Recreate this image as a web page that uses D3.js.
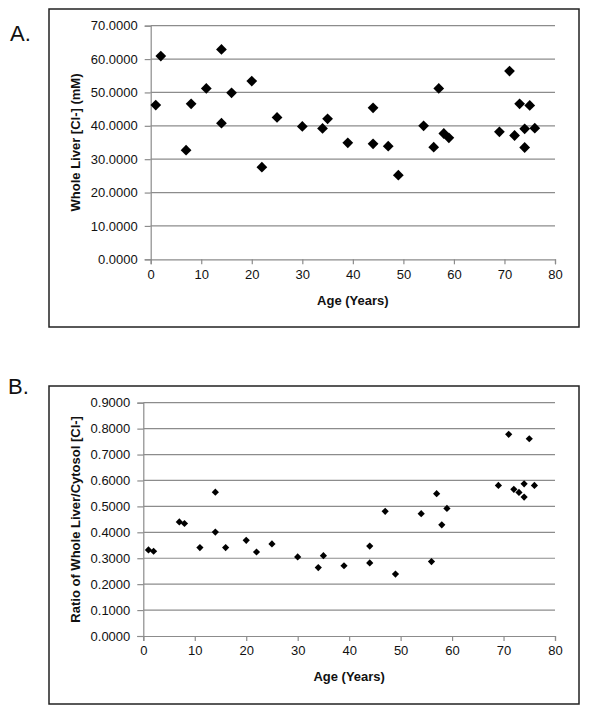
<!DOCTYPE html>
<html><head><meta charset="utf-8">
<script src="https://cdn.jsdelivr.net/npm/d3@7"></script>
<style>body{margin:0;background:#fff}svg{display:block}</style>
</head><body>
<svg id="c" width="589" height="714"></svg>
<script>
const agesA = [1,2,7,8,11,14,14,16,20,22,25,30,34,35,39,44,44,47,49,54,56,57,58,59,69,71,72,73,74,74,75,76];
const chlorideA = [46.2,60.9,32.7,46.6,51.2,62.9,40.8,49.9,53.4,27.6,42.5,39.8,39.2,42.1,34.9,45.4,34.6,33.9,25.2,40.0,33.6,51.2,37.7,36.4,38.2,56.4,37.1,46.6,39.1,33.5,46.1,39.3];
const agesB = [1,2,7,8,11,14,14,16,20,22,25,30,34,35,39,44,44,47,49,54,56,57,58,59,69,71,72,73,74,74,75,76];
const ratioB = [0.332,0.327,0.440,0.434,0.341,0.555,0.401,0.341,0.369,0.324,0.355,0.305,0.264,0.310,0.271,0.347,0.282,0.481,0.239,0.472,0.287,0.549,0.429,0.492,0.581,0.778,0.566,0.554,0.587,0.536,0.761,0.581];
const xTicks = [0,10,20,30,40,50,60,70,80];
const yTicksA = [0,10,20,30,40,50,60,70];
const yTicksB = [0,0.1,0.2,0.3,0.4,0.5,0.6,0.7,0.8,0.9];

const svg = d3.select("#c");
const font = "'Liberation Sans', Arial, sans-serif";
const grid = "#8c8c8c";

function panel(o){
  svg.append("rect").attr("x",o.box[0]).attr("y",o.box[1]).attr("width",o.box[2]).attr("height",o.box[3])
    .attr("fill","none").attr("stroke","#222").attr("stroke-width",1.5);
  svg.append("text").attr("x",o.lab[0]).attr("y",o.lab[1]).text(o.letter)
    .attr("font-family",font).attr("font-size",22).attr("fill","#111");
  const x = d3.scaleLinear().domain([0,80]).range([o.x0,o.x1]);
  const y = d3.scaleLinear().domain(o.ydom).range([o.y0,o.y1]);
  const g = svg.append("g");
  g.selectAll("line.grid").data(o.yt.slice(1)).join("line")
    .attr("x1",o.x0).attr("x2",o.x1).attr("y1",d=>y(d)).attr("y2",d=>y(d))
    .attr("stroke",grid).attr("stroke-width",1.2);
  const ya = g.append("g").attr("transform",`translate(${o.x0},0)`)
    .call(d3.axisLeft(y).tickValues(o.yt).tickFormat(d3.format(".4f")).tickSize(6).tickPadding(7));
  const xa = g.append("g").attr("transform",`translate(0,${o.y0})`)
    .call(d3.axisBottom(x).tickValues(xTicks).tickSize(5).tickPadding(5));
  [ya,xa].forEach(a=>{
    a.select(".domain").attr("stroke",grid).attr("stroke-width",1.2);
    a.selectAll(".tick line").attr("stroke",grid).attr("stroke-width",1.2);
    a.selectAll("text").attr("font-family",font).attr("font-size",13).attr("fill","#111");
  });
  const sym = d3.symbol().type(d3.symbolSquare).size(o.ms);
  g.selectAll("path.pt").data(o.xs.map((a,i)=>[a,o.ys[i]])).join("path")
    .attr("d",sym).attr("fill","#000")
    .attr("transform",d=>`translate(${x(d[0])},${y(d[1])}) rotate(45)`);
  svg.append("text").attr("x",(o.x0+o.x1)/2).attr("y",o.xt).attr("text-anchor","middle")
    .attr("font-family",font).attr("font-weight","bold").attr("font-size",13).attr("fill","#111")
    .text("Age (Years)");
  svg.append("text").attr("transform",`translate(${o.ytx},${(o.y0+o.y1)/2}) rotate(-90)`)
    .attr("text-anchor","middle").attr("dominant-baseline","middle")
    .attr("font-family",font).attr("font-weight","bold").attr("font-size",13).attr("fill","#111")
    .text(o.ytitle);
}

panel({box:[49,9,530,318],lab:[10,41],letter:"A.",x0:150.7,x1:555,y0:259.3,y1:25.7,ydom:[0,70],yt:yTicksA,
  xs:agesA,ys:chlorideA,ms:58,xt:305,ytx:77,ytitle:"Whole Liver [Cl-] (mM)"});
panel({box:[49,386,530,318],lab:[8,394],letter:"B.",x0:143.3,x1:555,y0:636,y1:402.7,ydom:[0,0.9],yt:yTicksB,
  xs:agesB,ys:ratioB,ms:26,xt:681,ytx:77,ytitle:"Ratio of Whole Liver/Cytosol [Cl-]"});
</script>
</body></html>
